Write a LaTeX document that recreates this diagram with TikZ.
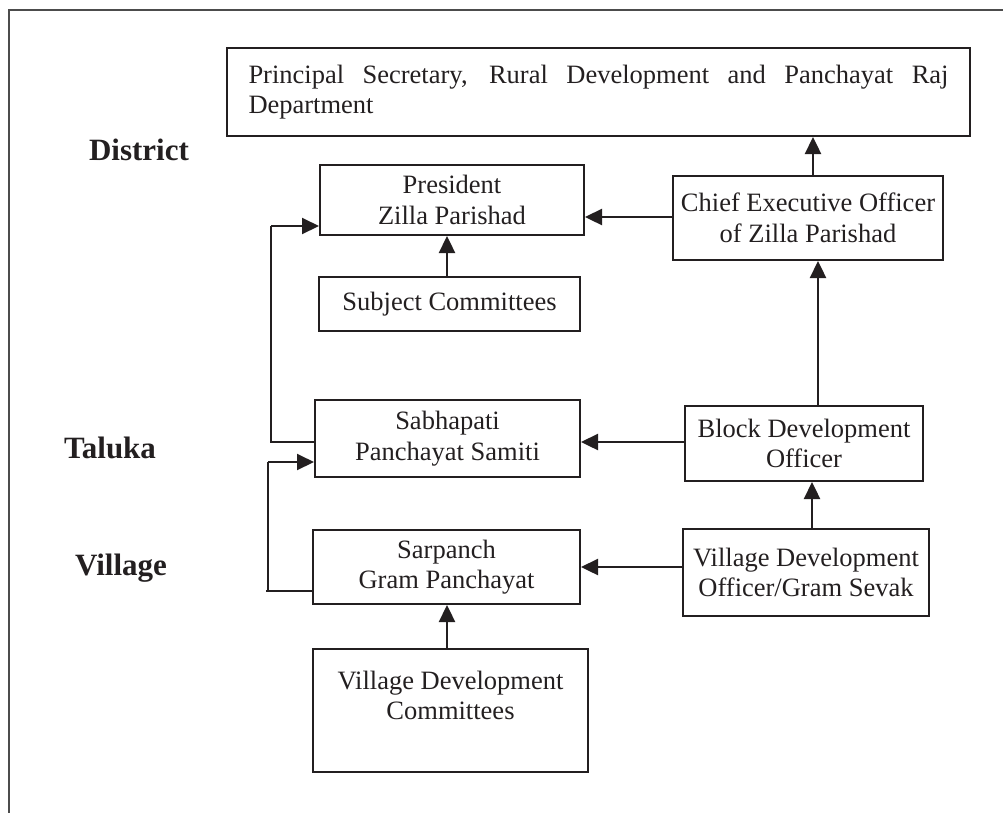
\documentclass[tikz,border=0pt]{standalone}
\usepackage{fontspec}
\setmainfont{Liberation Serif}
\usetikzlibrary{arrows.meta}
\definecolor{ink}{HTML}{231F20}
\begin{document}
\begin{tikzpicture}[x=1pt,y=-1pt,
  box/.style={draw=ink, line width=2pt, rectangle, inner sep=0pt, align=center,
    text=ink, font=\fontsize{26.5}{30.5}\selectfont},
  lvl/.style={text=ink, font=\fontsize{31}{34}\selectfont\bfseries, inner sep=0pt},
  arr/.style={draw=ink, line width=2.4pt, -{Triangle[length=17pt,width=16pt]}},
  thin/.style={draw=ink, line width=1.5pt},
  frameline/.style={draw=black!70, line width=1.6pt}]
\useasboundingbox (0,0) rectangle (1003,812);
\begin{scope}
\clip (0,0) rectangle (1003,812);
\draw[frameline] (9,830) -- (9,10) -- (1020,10);
\end{scope}

% nodes
\node[box, text width=700pt, inner xsep=21.5pt, minimum height=88pt, align=justify]
  (top) at (598.5,92) {Principal Secretary, Rural Development and Panchayat Raj\linebreak Department};
\node[box, minimum width=264pt, minimum height=70pt] (pres) at (452,200) {President\\Zilla Parishad};
\node[box, minimum width=270pt, minimum height=84pt] (ceo) at (808,218) {Chief Executive Officer\\of Zilla Parishad};
\node[box, minimum width=261pt, minimum height=54pt] (subj) at (449.5,304) {Subject Committees};
\node[box, minimum width=265pt, minimum height=77pt] (sabh) at (447.5,438.5) {Sabhapati\\Panchayat Samiti};
\node[box, minimum width=238pt, minimum height=75pt] (bdo) at (804,443.5) {Block Development\\Officer};
\node[box, minimum width=267pt, minimum height=74pt] (sarp) at (446.5,567) {Sarpanch\\Gram Panchayat};
\node[box, minimum width=246pt, minimum height=87pt] (vdo) at (806,572.5) {Village Development\\Officer/Gram Sevak};
\node[box, minimum width=275pt, minimum height=123pt] (vdc) at (450.5,710.5) {Village Development\\Committees\\\mbox{}};

\node[lvl] (district) at (139,150) {District};
\node[lvl] (taluka) at (110,448) {Taluka};
\node[lvl] (village) at (121,568) {Village};

% connectors
\draw[arr] ([xshift=5pt]ceo.north) -- ([xshift=5pt]ceo.north |- top.south);
\draw[arr] ([yshift=1pt]ceo.west) -- ([yshift=1pt]ceo.west -| pres.east);
\draw[arr] ([xshift=-2.5pt]subj.north) -- ([xshift=-2.5pt]subj.north |- pres.south);
\draw[arr] ([xshift=14pt]bdo.north) -- ([xshift=14pt]bdo.north |- ceo.south);
\draw[arr] ([yshift=1.5pt]bdo.west) -- ([yshift=1.5pt]bdo.west -| sabh.east);
\draw[arr] ([xshift=6pt]vdo.north) -- ([xshift=6pt]vdo.north |- bdo.south);
\draw[arr] (sarp.east -| vdo.west) -- (sarp.east);
\draw[arr] ([xshift=-3.5pt]vdc.north) -- ([xshift=-3.5pt]vdc.north |- sarp.south);

\coordinate (a1) at (271,442);
\coordinate (a2) at (271,226);
\draw[thin] (sabh.west |- a1) -- (a1) -- (a2);
\draw[arr, line width=2pt] (a2) -- (a2 -| pres.west);

\coordinate (b0) at (266,591);
\coordinate (b1) at (268,591);
\coordinate (b2) at (268,462);
\draw[thin] (sarp.west |- b0) -- (b0);
\draw[thin] (b1) -- (b2);
\draw[arr, line width=2pt] (b2) -- (b2 -| sabh.west);
\end{tikzpicture}
\end{document}
